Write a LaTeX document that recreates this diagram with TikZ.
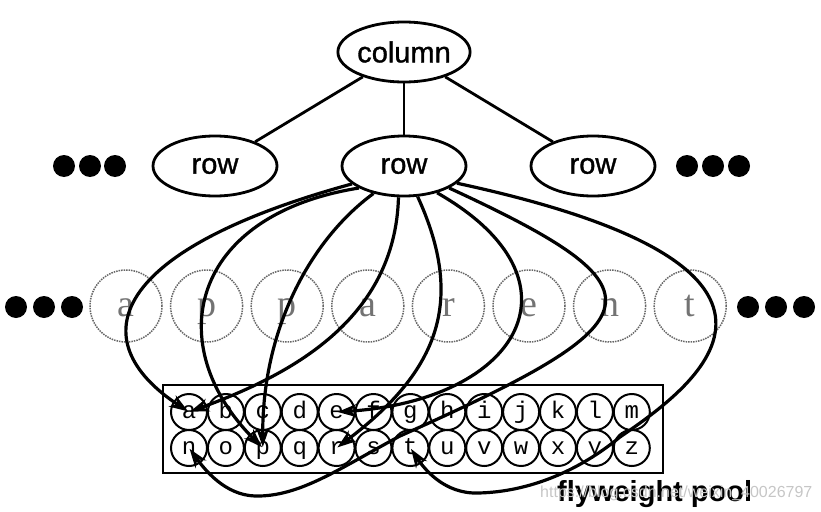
\documentclass[tikz,border=0pt]{standalone}
\usepackage{fontspec}
\setmainfont{Liberation Serif}
\newfontfamily\lsans{Liberation Sans}
\newfontfamily\lsansfb[FakeBold=1.2]{Liberation Sans}
\newfontfamily\lmono{Liberation Mono}
\usetikzlibrary{arrows.meta,shapes.geometric}
\begin{document}
\begin{tikzpicture}[x=1pt,y=-1pt,
  treenode/.style={draw, ellipse, line width=2.8pt, minimum width=124pt, minimum height=60pt, inner sep=0pt, font=\lsansfb\fontsize{29}{30}\selectfont},
  bigdot/.style={circle, fill=black, minimum size=22pt, inner sep=0pt},
  ghost/.style={circle, draw=black!60, densely dotted, line width=1.5pt, minimum size=72pt, inner sep=0pt, text=black!55, text height=20pt, text depth=0pt, font=\fontsize{38}{40}\selectfont},
  poolc/.style={circle, draw, line width=2pt, minimum size=36pt, inner sep=0pt, text height=12pt, text depth=0pt, font=\lmono\fontsize{24}{26}\selectfont},
  link/.style={line width=2.8pt},
  ref/.style={line width=3.2pt, shorten >=1pt, -{Stealth[length=19pt,width=13pt,inset=6pt]}},
]
\useasboundingbox (0,0) rectangle (821,511);
% tree
\node[treenode] (col) at (404,52) {column};
\node[treenode] (rowL) at (215,166) {row};
\node[treenode] (rowM) at (404,166) {row};
\node[treenode] (rowR) at (593,166) {row};
\draw[link] (col) -- (rowL);
\draw[link] (col) -- (rowM);
\draw[link] (col) -- (rowR);
\foreach \x/\n in {64/1,90/2,115/3} \node[bigdot] (dl\n) at (\x,166) {};
\foreach \x/\n in {687/1,713/2,739/3} \node[bigdot] (dr\n) at (\x,166) {};
% ghost row
\foreach \c [count=\i] in {a,p,p,a,r,e,n,t} \node[ghost] (g\i) at ({126+80.6*(\i-1)},306) {\c};
\foreach \x/\n in {16/1,44/2,72/3} \node[bigdot] (ml\n) at (\x,307) {};
\foreach \x/\n in {748/1,776/2,804/3} \node[bigdot] (mr\n) at (\x,307) {};
% pool
\node[draw, line width=2pt, minimum width=500pt, minimum height=88pt, inner sep=0pt] (box) at (413,429) {};
\foreach \c [count=\i from 0] in {a,b,c,d,e,f,g,h,i,j,k,l,m} \node[poolc] (k-\c) at ({189+36.9*\i},412) {\c};
\foreach \c [count=\i from 0] in {n,o,p,q,r,s,t,u,v,w,x,y,z} \node[poolc] (k-\c) at ({189+36.9*\i},448) {\c};
% references
\draw[ref] (rowM.199) .. controls (110,250) and (80,340) .. (k-a.center);
\draw[ref] (rowM.206) .. controls (190,215) and (160,345) .. (k-p.center);
\draw[ref] (rowM.222) .. controls (310,240) and (262,330) .. (k-p.center);
\draw[ref] (rowM.260) .. controls (395,320) and (290,375) .. (k-a.center);
\draw[ref] (rowM.294) .. controls (465,300) and (440,370) .. (k-r.center);
\draw[ref] (rowM.321) .. controls (590,280) and (520,400) .. (k-e.center);
\draw[ref] (rowM.334) .. controls (670,290) and (660,320) .. (400,436) .. controls (340,468) and (300,497) .. (255,496) .. controls (225,495) and (205,470) .. (k-n.center);
\draw[ref] (rowM.342) .. controls (860,270) and (690,389) .. (620,437) .. controls (580,470) and (530,492) .. (478,493) .. controls (445,494) and (425,470) .. (k-t.center);
% label
\node[anchor=base west, inner sep=0pt, font=\lsans\bfseries\fontsize{29}{32}\selectfont] (fp) at (557,501) {flyweight pool};
\node[anchor=west, inner sep=0pt, text=gray!45, font=\lsans\fontsize{16}{18}\selectfont] (wm) at (540,493) {https://blog.csdn.net/weixin\_40026797};
\end{tikzpicture}
\end{document}
